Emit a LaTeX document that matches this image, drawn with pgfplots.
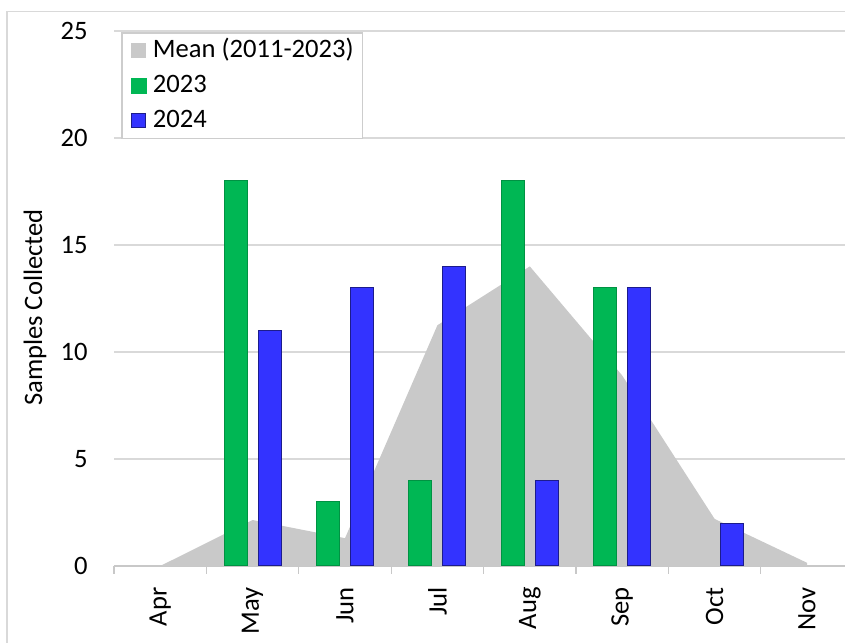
\documentclass[border=0pt]{standalone}
\usepackage{fontspec}
\setmainfont{Carlito}
\usepackage{pgfplots}
\pgfplotsset{compat=1.18}
\definecolor{meangray}{RGB}{201,201,201}
\definecolor{bargreen}{RGB}{0,183,84}
\definecolor{barblue}{RGB}{51,51,255}
\definecolor{gridgray}{RGB}{217,217,217}
\definecolor{legendgray}{RGB}{205,205,205}
\definecolor{axisgray}{RGB}{200,200,200}
\begin{document}
\begin{tikzpicture}
\begin{axis}[
  at={(57pt,38pt)}, anchor=south west,
  scale only axis, width=365.5pt, height=267.5pt,
  xmin=-0.5, xmax=7.411, ymin=0, ymax=25,
  enlargelimits=false,
  axis lines*=left,
  y axis line style={draw=none},
  x axis line style={draw=axisgray, line width=0.6pt},
  xtick={0,...,7},
  xticklabels={Apr,May,Jun,Jul,Aug,Sep,Oct,Nov},
  minor xtick={-0.5,0.5,...,6.5},
  ytick={0,5,...,25},
  major tick length=0pt, minor tick length=4pt, tick align=outside,
  tick style={draw=axisgray, line width=0.6pt},
  ytick style={draw=none},
  ymajorgrids, grid style={draw=gridgray, line width=0.6pt},
  /pgf/number format/assume math mode=true,
  tick label style={font=\fontsize{13.3}{15}\selectfont},
  yticklabel style={anchor=east, inner sep=0pt, xshift=-13pt},
  xticklabel style={yshift=-10.5pt, rotate=90, anchor=east, inner sep=0pt},
  every axis y label/.style={at={(axis description cs:-0.1081,0.483)}, anchor=center, rotate=90, font=\fontsize{13.3}{15}\selectfont},
  ylabel={Samples Collected},
  legend style={at={(0,1)}, anchor=north west, xshift=3.5pt, yshift=-0.5pt,
    draw=legendgray, line width=0.8pt, fill=white,
    inner xsep=4.5pt, inner ysep=2.5pt, row sep=4.6pt,
    font=\fontsize{13.3}{15}\selectfont,
    nodes={inner sep=0pt, text height=9.7pt, text depth=3.2pt},
    /tikz/every odd column/.append style={column sep=3pt}},
  legend cell align=left,
]
\addplot[fill=meangray, draw=none,
  legend image code/.code={\fill[meangray] (0pt,-3.75pt) rectangle (7.5pt,3.75pt);}]
  coordinates {(0,0) (1,2.15) (2,1.3) (3,11.25) (4,14.0) (5,8.9) (6,2.2) (7,0.15)} \closedcycle;
\addlegendentry{Mean (2011-2023)}
\addplot[ybar, bar width=11.5pt, bar shift=-8.5pt, fill=bargreen, draw=bargreen!80!black, line width=0.5pt,
  legend image code/.code={\fill[bargreen] (0pt,-3.75pt) rectangle (7.5pt,3.75pt);}]
  coordinates {(1,18) (2,3) (3,4) (4,18) (5,13)};
\addlegendentry{2023}
\addplot[ybar, bar width=11.5pt, bar shift=8.5pt, fill=barblue, draw=barblue!55!black, line width=0.5pt,
  legend image code/.code={\filldraw[fill=barblue, draw=barblue!55!black, line width=0.5pt] (0.25pt,-3.5pt) rectangle (7.25pt,3.5pt);}]
  coordinates {(1,11) (2,13) (3,14) (4,4) (5,13) (6,2)};
\addlegendentry{2024}
\end{axis}
\draw[gridgray, line width=0.6pt] (3.5pt,-10pt) -- (3.5pt,315.25pt) -- (440pt,315.25pt);
\pgfresetboundingbox
\useasboundingbox (0,0) rectangle (422.5pt,321pt);
\end{tikzpicture}
\end{document}
